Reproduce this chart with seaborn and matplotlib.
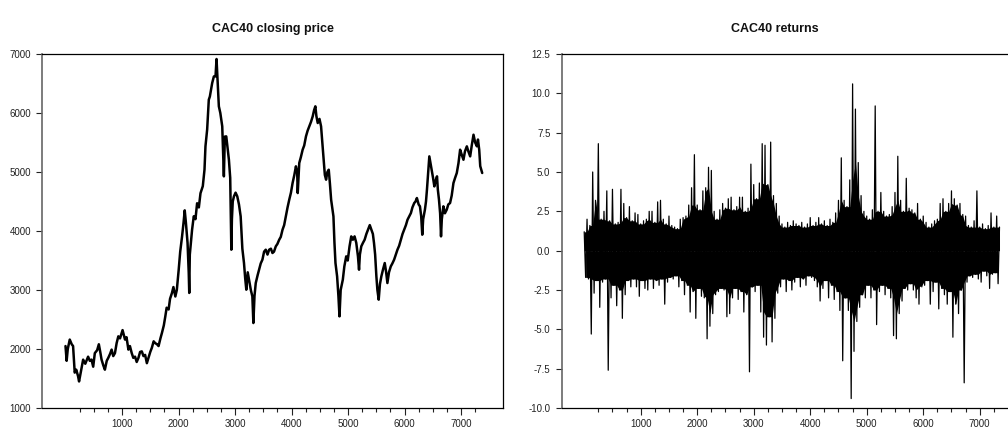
import numpy as np
import pandas as pd
import seaborn as sns
import matplotlib
matplotlib.use("Agg")
import matplotlib.pyplot as plt
from matplotlib.ticker import FixedLocator, FormatStrFormatter

# ---------------- data ----------------
price_t = [0, 20, 40, 75, 110, 134, 163, 190, 222, 240, 270, 312, 350, 400, 430, 460, 490, 519, 560, 590,
           615, 638, 670, 697, 730, 757, 790, 816, 845, 875, 905, 935, 965, 994, 1010, 1053, 1080, 1113, 1140, 1172,
           1200, 1231, 1260, 1291, 1320, 1350, 1380, 1409, 1440, 1469, 1500, 1528, 1560, 1587, 1620, 1647, 1680, 1706, 1740, 1766,
           1790, 1825, 1850, 1884, 1910, 1944, 1970, 2003, 2030, 2062, 2090, 2110, 2130, 2160, 2181, 2190, 2200, 2240, 2270, 2300,
           2329, 2360, 2389, 2430, 2460, 2477, 2507, 2536, 2555, 2596, 2626, 2655, 2673, 2695, 2714, 2740, 2774, 2803, 2820, 2845,
           2870, 2892, 2915, 2928, 2935, 2945, 2960, 2981, 3010, 3040, 3070, 3100, 3130, 3159, 3180, 3200, 3225, 3248, 3280, 3307,
           3325, 3345, 3367, 3400, 3426, 3455, 3485, 3515, 3544, 3575, 3604, 3635, 3663, 3690, 3722, 3750, 3782, 3810, 3841, 3870,
           3900, 3930, 3960, 3990, 4019, 4050, 4078, 4100, 4110, 4137, 4165, 4197, 4225, 4256, 4285, 4315, 4345, 4375, 4400, 4422,
           4440, 4464, 4495, 4523, 4545, 4564, 4590, 4612, 4635, 4659, 4680, 4701, 4720, 4742, 4760, 4778, 4807, 4830, 4849, 4870,
           4908, 4935, 4968, 4995, 5027, 5057, 5086, 5116, 5146, 5176, 5195, 5210, 5235, 5265, 5294, 5325, 5354, 5385, 5413, 5440,
           5460, 5480, 5502, 5520, 5543, 5565, 5590, 5620, 5650, 5675, 5697, 5725, 5757, 5785, 5816, 5845, 5875, 5905, 5935, 5965,
           5994, 6025, 6053, 6085, 6113, 6140, 6172, 6195, 6219, 6250, 6273, 6295, 6314, 6330, 6361, 6380, 6397, 6420, 6439, 6460,
           6480, 6505, 6528, 6550, 6575, 6590, 6610, 6630, 6646, 6660, 6688, 6715, 6747, 6775, 6806, 6835, 6866, 6895, 6925, 6955,
           6984, 7010, 7043, 7070, 7103, 7130, 7162, 7190, 7221, 7250, 7281, 7300, 7322, 7340, 7358, 7375]
price_v = [2050, 1800, 2000, 2160, 2080, 2050, 1600, 1650, 1540, 1450, 1600, 1820, 1750, 1870, 1800, 1820, 1700, 1930, 1980, 2080,
           1950, 1820, 1720, 1650, 1800, 1850, 1920, 1990, 1880, 1930, 2100, 2215, 2180, 2270, 2320, 2160, 2200, 1990, 2050, 1930,
           1850, 1870, 1780, 1850, 1950, 1960, 1880, 1900, 1760, 1850, 1950, 2020, 2130, 2100, 2080, 2050, 2180, 2270, 2400, 2550,
           2700, 2670, 2850, 2950, 3050, 2890, 3000, 3340, 3650, 3900, 4150, 4350, 4150, 3800, 3290, 2950, 3600, 4020, 4250, 4200,
           4470, 4400, 4640, 4760, 5040, 5435, 5720, 6225, 6280, 6508, 6620, 6620, 6915, 6500, 6113, 6000, 5774, 4926, 5600, 5604,
           5400, 5208, 4900, 4135, 3683, 4200, 4500, 4587, 4650, 4587, 4450, 4248, 3700, 3457, 3200, 3005, 3300, 3175, 3000, 2892,
           2440, 2900, 3118, 3250, 3344, 3450, 3514, 3650, 3683, 3600, 3683, 3700, 3627, 3650, 3740, 3780, 3852, 3900, 4022, 4100,
           4248, 4400, 4531, 4650, 4813, 4950, 5096, 5000, 4643, 5152, 5250, 5378, 5450, 5604, 5700, 5774, 5850, 5943, 6050, 6113,
           5950, 5830, 5900, 5774, 5500, 5265, 4950, 4870, 5000, 5039, 4800, 4531, 4400, 4248, 3800, 3457, 3231, 2900, 2553, 3000,
           3175, 3400, 3570, 3500, 3740, 3909, 3852, 3909, 3800, 3570, 3344, 3600, 3740, 3800, 3852, 3950, 4022, 4100, 4022, 3950,
           3796, 3600, 3231, 3000, 2836, 3100, 3231, 3350, 3457, 3300, 3118, 3300, 3400, 3450, 3514, 3600, 3683, 3750, 3852, 3950,
           4022, 4100, 4191, 4250, 4304, 4400, 4474, 4500, 4559, 4450, 4418, 4250, 3937, 4200, 4361, 4500, 4700, 5000, 5265, 5150,
           5039, 4900, 4756, 4850, 4926, 4700, 4531, 4300, 3909, 4200, 4418, 4300, 4361, 4450, 4474, 4600, 4813, 4900, 4983, 5150,
           5378, 5300, 5208, 5350, 5435, 5350, 5265, 5450, 5632, 5500, 5435, 5550, 5378, 5100, 5039, 4983]

# upper extremes of the returns, one every 50 observations (starting at 0)
ret_hi = [1.2, 2.0, 1.6, 5.0, 3.2, 6.8, 2.0, 2.5, 3.8, 1.9, 3.9, 1.7, 1.8, 3.9, 3.0, 2.1, 2.8, 1.9, 2.4, 2.3,
          1.7, 1.9, 2.0, 2.5, 2.5, 1.8, 3.1, 3.2, 2.0, 1.7, 2.2, 1.6, 1.5, 1.4, 2.0, 2.1, 2.2, 2.9, 4.0, 6.1,
          2.9, 2.6, 3.8, 4.0, 5.3, 5.1, 2.5, 2.0, 2.6, 3.0, 2.7, 3.3, 3.4, 2.6, 2.8, 3.4, 3.4, 2.5, 2.7, 5.5,
          4.2, 3.3, 4.3, 6.8, 6.7, 4.2, 6.9, 3.5, 3.0, 2.2, 1.7, 1.5, 1.8, 1.6, 1.9, 1.7, 1.6, 1.8, 1.5, 1.7,
          2.1, 1.6, 1.8, 2.1, 1.7, 1.9, 1.6, 2.0, 1.8, 2.4, 3.2, 5.9, 3.2, 2.8, 4.5, 10.6, 9.0, 5.6, 3.5, 2.5,
          2.2, 2.0, 2.6, 9.2, 2.5, 3.7, 2.5, 2.2, 2.3, 2.8, 3.7, 6.0, 3.2, 2.5, 4.6, 2.7, 2.6, 2.4, 3.0, 2.0,
          2.2, 1.8, 1.5, 1.7, 1.9, 2.0, 3.0, 3.3, 2.5, 3.0, 3.8, 3.3, 2.9, 3.0, 2.3, 2.2, 1.6, 1.5, 1.9, 3.8,
          1.5, 1.7, 1.4, 1.6, 2.4, 1.5, 2.2, 1.5]
# lower extremes of the returns, one every 50 observations (starting at 25)
ret_lo = [-1.7, -1.8, -5.3, -2.7, -1.9, -3.6, -2.0, -1.8, -7.6, -3.0, -2.2, -3.5, -2.5, -4.3, -2.8, -1.9, -2.3, -1.8, -2.3, -2.9,
          -1.9, -2.4, -2.5, -1.8, -2.4, -1.9, -2.2, -1.8, -3.4, -2.0, -1.7, -1.8, -1.6, -2.3, -1.9, -2.8, -2.2, -3.9, -2.6, -4.3,
          -2.4, -2.9, -3.0, -5.6, -4.8, -4.0, -2.8, -2.6, -2.4, -2.5, -4.2, -4.0, -3.0, -2.4, -3.1, -2.6, -3.9, -2.8, -7.7, -2.3,
          -2.6, -2.2, -3.9, -5.5, -6.0, -4.2, -5.8, -4.3, -2.7, -2.3, -1.8, -2.6, -1.9, -2.5, -2.0, -1.7, -2.3, -1.8, -2.2, -1.6,
          -1.7, -1.9, -2.3, -3.2, -2.4, -1.9, -3.0, -2.2, -3.1, -2.6, -3.8, -7.0, -3.0, -3.8, -9.4, -6.4, -4.5, -3.6, -2.8, -3.0,
          -2.2, -3.0, -2.5, -4.7, -2.6, -2.2, -2.8, -2.4, -3.0, -5.4, -5.6, -4.0, -3.2, -2.4, -2.5, -2.1, -2.5, -3.0, -3.4, -2.3,
          -2.2, -1.9, -3.4, -2.6, -2.0, -3.7, -2.4, -2.8, -3.4, -2.6, -5.5, -3.4, -4.0, -2.5, -8.4, -2.0, -1.6, -1.7, -1.5, -1.8,
          -2.0, -1.3, -1.6, -2.4, -1.5, -1.4, -2.1]

titles = ["CAC40 closing price", "CAC40 returns"]
price_ticks = [1000, 2000, 3000, 4000, 5000, 6000, 7000]
ret_ticks = [-10.0, -7.5, -5.0, -2.5, 0.0, 2.5, 5.0, 7.5, 10.0, 12.5]
obs_ticks = [1000, 2000, 3000, 4000, 5000, 6000, 7000]

# ---------------- build tables ----------------
price_df = pd.DataFrame({"obs": price_t, "price": price_v})
hi_df = pd.DataFrame({"obs": np.arange(len(ret_hi)) * 50, "ret": ret_hi})
lo_df = pd.DataFrame({"obs": 25 + np.arange(len(ret_lo)) * 50, "ret": ret_lo})
ret_df = pd.concat([hi_df, lo_df]).sort_values("obs").reset_index(drop=True)
# dense core of the band: the lower of neighbouring extremes
hi_df["core"] = hi_df["ret"].rolling(3, center=True, min_periods=1).min()
lo_df["core"] = lo_df["ret"].rolling(3, center=True, min_periods=1).max()

# ---------------- style ----------------
sns.set_theme(style="ticks")
plt.rcParams["font.family"] = ["Liberation Sans", "DejaVu Sans"]
plt.rcParams["axes.unicode_minus"] = False

fig = plt.figure(figsize=(10.08, 4.28), dpi=100)
W, H = 1008, 428
ax1 = fig.add_axes([42 / W, (H - 408) / H, 461 / W, 354 / H])
ax2 = fig.add_axes([561.5 / W, (H - 408) / H, 461 / W, 354 / H])

sns.lineplot(data=price_df, x="obs", y="price", ax=ax1, color="black",
             linewidth=1.8, estimator=None, sort=False)

ax2.fill_between(hi_df["obs"], 0, hi_df["core"], color="black", linewidth=0)
ax2.fill_between(lo_df["obs"], lo_df["core"], 0, color="black", linewidth=0)
sns.lineplot(data=ret_df, x="obs", y="ret", ax=ax2, color="black",
             linewidth=0.9, estimator=None, sort=False)

minor = [250 * k for k in range(1, 30) if k % 4]

for ax, title in zip((ax1, ax2), titles):
    ax.set_xlabel("")
    ax.set_ylabel("")
    ax.set_xticks(obs_ticks)
    ax.xaxis.set_minor_locator(FixedLocator(minor))
    ax.tick_params(axis="x", which="major", direction="out", length=5, width=0.8,
                   pad=3, labelsize=7, colors="#222222")
    ax.tick_params(axis="x", which="minor", direction="out", length=3, width=0.8, colors="#222222")
    ax.tick_params(axis="y", which="major", direction="out", length=4, width=0.8,
                   pad=4, labelsize=7, colors="#222222")
    for side in ("top", "right", "bottom", "left"):
        ax.spines[side].set_visible(True)
        ax.spines[side].set_color("black")
        ax.spines[side].set_linewidth(0.9)
    ax.spines["left"].set_color("#666666")
    ax.spines["left"].set_linewidth(1.2)

ax1.set_title(titles[0], fontsize=9, fontweight="bold", pad=15.5, color="#111111")
ax2.set_title(titles[1], fontsize=9, fontweight="bold", pad=15.5, color="#111111", x=0.463)

ax1.set_xlim(-416, 7743)
ax1.set_ylim(1000, 7000)
ax1.set_yticks(price_ticks)

ax2.set_xlim(-402, 7757)
ax2.set_ylim(-10, 12.5)
ax2.set_yticks(ret_ticks)
ax2.yaxis.set_major_formatter(FormatStrFormatter("%.1f"))

fig.savefig("out.png", dpi=100)
